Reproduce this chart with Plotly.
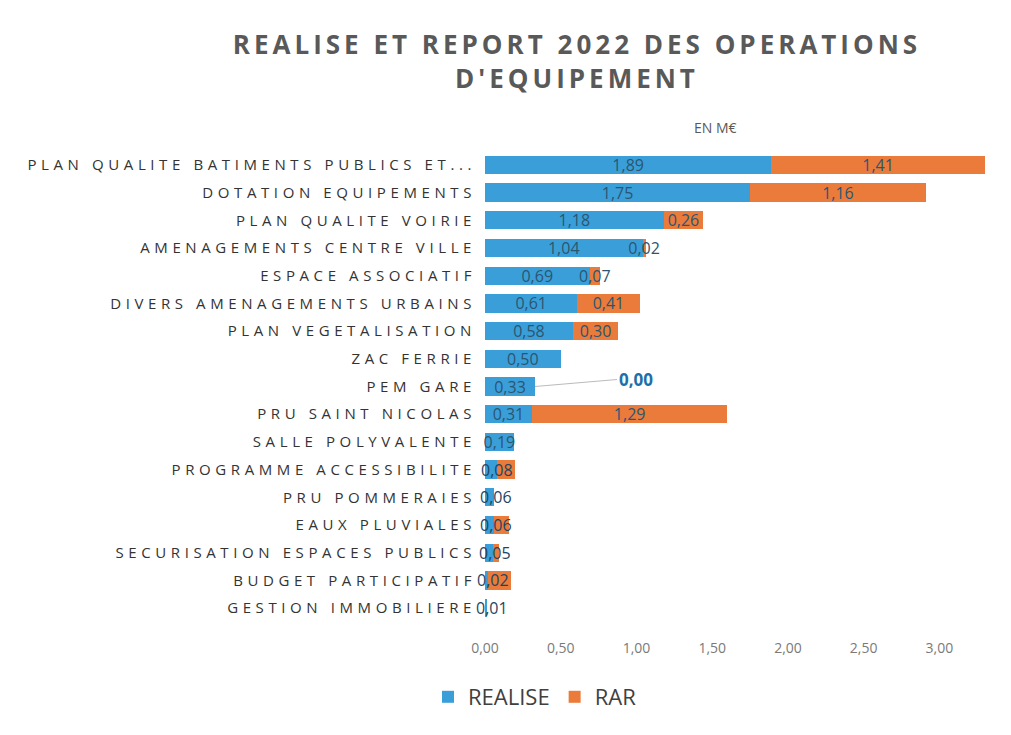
import plotly.graph_objects as go

categories = [
    "PLAN QUALITE BATIMENTS PUBLICS ET...",
    "DOTATION EQUIPEMENTS",
    "PLAN QUALITE VOIRIE",
    "AMENAGEMENTS CENTRE VILLE",
    "ESPACE ASSOCIATIF",
    "DIVERS AMENAGEMENTS URBAINS",
    "PLAN VEGETALISATION",
    "ZAC FERRIE",
    "PEM GARE",
    "PRU SAINT NICOLAS",
    "SALLE POLYVALENTE",
    "PROGRAMME ACCESSIBILITE",
    "PRU POMMERAIES",
    "EAUX PLUVIALES",
    "SECURISATION ESPACES PUBLICS",
    "BUDGET PARTICIPATIF",
    "GESTION IMMOBILIERE",
]
realise = [1.89, 1.75, 1.18, 1.04, 0.69, 0.61, 0.58, 0.50, 0.33, 0.31, 0.19,
           0.08, 0.06, 0.06, 0.05, 0.02, 0.01]
rar = [1.41, 1.16, 0.26, 0.02, 0.07, 0.41, 0.30, 0.00, 0.00, 1.29, 0.00,
       0.12, 0.00, 0.10, 0.04, 0.15, 0.00]
# which RAR values carry an in-bar label in the original
rar_labelled = [True, True, True, True, True, True, True, False, False, True, False,
                False, False, False, False, False, False]
tick_vals = [0, 0.5, 1.0, 1.5, 2.0, 2.5, 3.0]

def fmt(v):
    return f"{v:.2f}".replace(".", ",")

SMALL = 0.1  # labels of tiny bars are drawn on top of everything
realise_text = [fmt(v) if v >= SMALL else "" for v in realise]
rar_text = [fmt(v) if show else "" for v, show in zip(rar, rar_labelled)]

BLUE = "#3A9FD8"
ORANGE = "#EB7B3A"
LABEL = "#2C5572"
LABEL_FONT = dict(family="Open Sans", size=16, color=LABEL)

fig = go.Figure()
fig.add_trace(go.Bar(
    y=categories, x=realise, orientation="h", name="REALISE",
    marker=dict(color=BLUE, line=dict(width=0)),
    text=realise_text, textposition="inside", insidetextanchor="middle",
    textangle=0, constraintext="none", cliponaxis=False,
    textfont=LABEL_FONT,
))
fig.add_trace(go.Bar(
    y=categories, x=rar, orientation="h", name="RAR",
    marker=dict(color=ORANGE, line=dict(width=0)),
    text=rar_text, textposition="inside", insidetextanchor="middle",
    textangle=0, constraintext="none", cliponaxis=False,
    textfont=LABEL_FONT,
))

for cat, v in zip(categories, realise):
    if v < SMALL:
        fig.add_annotation(x=v / 2 + 0.04, y=cat, xref="x", yref="y", text=fmt(v),
                           showarrow=False, font=dict(family="Open Sans", size=16, color="#1E4563"))

# RAR label for PEM GARE drawn outside with a leader line
pem = categories.index("PEM GARE")
fig.add_annotation(
    x=realise[pem] + rar[pem], y=categories[pem], xref="x", yref="y",
    text=fmt(rar[pem]), showarrow=True, arrowhead=0, arrowwidth=1,
    arrowcolor="#BBBBBB", ax=82, ay=-7, xanchor="left",
    font=dict(family="Open Sans", size=17, color="#1F6FA6", weight="bold"),
)

fig.add_annotation(
    text="EN M€", xref="paper", yref="paper", x=(715 - 485) / 515, y=1.075,
    showarrow=False, font=dict(family="Open Sans", size=14, color="#595959"),
)

fig.update_layout(
    width=1011, height=735,
    barmode="stack", bargap=0.34,
    separators=", ",
    paper_bgcolor="white", plot_bgcolor="white",
    margin=dict(l=485, r=11, t=151, b=113),
    title=dict(
        text="REALISE ET REPORT 2022 DES OPERATIONS<br>D'EQUIPEMENT",
        x=577 / 1011, xanchor="center", xref="container",
        y=1 - 54 / 735, yanchor="middle", yref="container",
        font=dict(family="Open Sans", size=26, color="#595959", weight="bold"),
    ),
    xaxis=dict(
        range=[0, 3.4], tickvals=tick_vals, tickformat=".2f",
        showgrid=False, zeroline=False, showline=False, ticks="",
        ticklabelstandoff=16,
        tickfont=dict(family="Open Sans", size=14, color="#7A7A7A"),
    ),
    yaxis=dict(
        autorange="reversed", showgrid=False, zeroline=False, showline=False,
        ticks="", ticklabelstandoff=8,
        tickfont=dict(family="Open Sans", size=15, color="#333333"),
    ),
    legend=dict(
        orientation="h", xref="container", yref="container",
        x=535 / 1011, xanchor="center", y=1 - 697 / 735, yanchor="middle",
        font=dict(family="Open Sans", size=22, color="#404040"),
        itemwidth=30, traceorder="normal",
    ),
    uniformtext=dict(minsize=16, mode="show"),
)

post = """
document.body.style.margin = '0';
var gd = document.getElementById('{plot_id}');
gd.querySelectorAll('.ytick text').forEach(function(t){ t.style.letterSpacing = '4.6px'; });
gd.querySelectorAll('.gtitle').forEach(function(t){ t.style.letterSpacing = '4px'; });
"""

fig.write_html("out.html", post_script=post, config={"displayModeBar": False})
